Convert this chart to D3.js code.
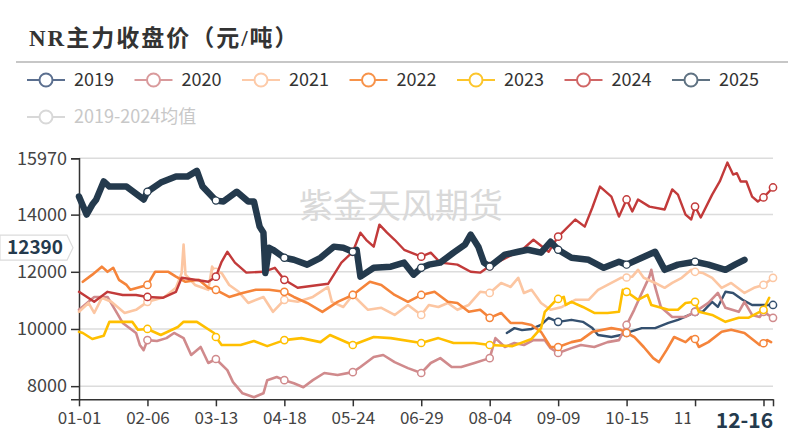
<!DOCTYPE html>
<html>
<head>
<meta charset="utf-8">
<script src="https://cdn.jsdelivr.net/npm/d3@7"></script>
<style>
  body { margin: 0; background: #fff; }
  svg { display: block; }
</style>
</head>
<body>
<svg id="chart" width="804" height="439"></svg>
<script>
// categories: one per calendar day of a leap year, "MM-DD"
const categories = d3.timeDay.range(new Date(2024, 0, 1), new Date(2025, 0, 1)).map(d3.timeFormat("%m-%d"));
const xTickDays = [0, 36, 72, 108, 144, 180, 216, 252, 288, 324, 360];
const yTicks = [8000, 10000, 12000, 14000, 15970];
const yMin = 7540, yMax = 15970;

const seriesNames = ["2019", "2020", "2021", "2022", "2023", "2024", "2025"];
const avgName = "2019-2024均值";

// [day index, close price]
const s2019 = [[225,9860],[229,10030],[233,9960],[238,10000],[243,10140],[247,10390],[252,10250],[259,10320],
  [265,10250],[270,10030],[273,9790],[280,9720],[285,9790],[288,9860],[296,10030],[303,10030],[310,10210],
  [315,10320],[321,10490],[324,10600],[328,10600],[333,10950],[336,10770],[340,11300],[344,11260],[349,11020],
  [354,10840],[359,10840],[365,10840]];

const s2020 = [[0,10670],[3,10840],[8,11120],[15,11120],[19,10670],[23,10210],[30,9860],[32,9440],[34,9260],
  [36,9610],[41,9580],[46,9680],[50,9860],[55,9680],[59,9090],[64,9370],[68,8810],[72,8950],[78,8560],[81,8140],
  [86,7750],[92,7610],[97,7750],[99,8210],[104,8320],[108,8210],[113,8100],[118,7960],[123,8210],[129,8460],
  [136,8390],[144,8490],[148,8670],[155,9020],[160,9090],[166,8840],[173,8630],[180,8460],[185,8810],[190,8980],
  [196,8670],[201,8670],[208,8810],[216,8980],[219,9680],[224,9370],[229,9510],[234,9440],[239,9610],[245,9610],
  [248,9330],[252,9160],[259,9330],[264,9440],[271,9370],[278,9540],[284,9610],[288,10140],[292,10670],
  [296,11260],[300,11830],[301,12070],[303,11470],[306,10770],[312,10420],[319,10420],[324,10600],[331,10910],
  [336,11260],[340,10740],[347,10600],[350,10950],[354,10490],[358,10420],[360,10600],[365,10390]];

const s2021 = [[0,10600],[5,10910],[8,10560],[12,11090],[17,10950],[24,10560],[30,10670],[36,10950],[40,11020],
  [45,11120],[51,11440],[54,11960],[55,12950],[56,11900],[61,11540],[68,11370],[70,12180],[72,12000],[75,11960],
  [79,11540],[84,11300],[89,10910],[97,11120],[102,10600],[108,11020],[115,10950],[123,11120],[131,11470],
  [133,10950],[139,10770],[144,11190],[152,10670],[159,10740],[166,10490],[173,10840],[180,10490],[184,10840],
  [189,10770],[194,10910],[199,10670],[205,10840],[211,11300],[216,11260],[222,11610],[227,11470],[231,11790],
  [234,11260],[238,11370],[243,10910],[248,10670],[254,10770],[261,11020],[268,11020],[273,11370],[280,11610],
  [285,11790],[288,11800],[291,11830],[294,12070],[297,11790],[303,11610],[308,11440],[312,11610],[317,11790],
  [322,12070],[324,12000],[328,11960],[333,11790],[338,11440],[343,11610],[350,11260],[355,11440],[360,11540],
  [365,11790]];

const s2022 = [[2,11650],[7,11900],[12,12180],[15,12000],[18,12140],[21,11720],[25,11540],[27,11370],[36,11540],
  [40,12000],[47,12000],[51,11830],[56,11650],[63,11720],[68,11440],[72,11370],[79,11120],[86,11260],[93,11370],
  [100,11370],[108,11300],[113,11120],[120,10910],[128,10600],[136,10950],[144,11190],[153,11650],[159,11540],
  [166,11190],[173,10950],[180,11190],[187,11300],[194,10950],[199,10910],[205,10600],[211,10670],[216,10390],
  [222,10560],[227,10210],[233,10210],[238,10140],[243,9900],[248,9370],[252,9370],[259,9540],[264,9610],
  [270,9900],[280,10030],[285,9970],[288,9860],[292,9720],[297,9370],[302,8980],[305,8840],[309,9260],
  [313,9720],[319,9540],[322,9720],[324,9650],[326,9370],[331,9540],[338,9900],[343,9970],[350,9860],
  [358,9440],[360,9500],[362,9610],[364,9540]];

const s2023 = [[0,9900],[2,9860],[7,9650],[13,9760],[16,10250],[28,10250],[31,9970],[36,10000],[43,9790],
  [52,10070],[55,10250],[62,10250],[71,9860],[72,9720],[75,9440],[85,9440],[92,9580],[99,9400],[108,9610],
  [117,9680],[127,9540],[132,9790],[144,9440],[155,9720],[164,9680],[180,9510],[189,9680],[197,9510],
  [208,9510],[216,9440],[228,9400],[238,9650],[243,10030],[245,10600],[250,10950],[252,11050],[255,11120],
  [256,10840],[259,10950],[265,10770],[271,10560],[278,10560],[284,10600],[286,11370],[288,11300],[294,11020],
  [299,11190],[301,10840],[310,10670],[315,10670],[319,10910],[324,10950],[326,10600],[333,10490],[340,10250],
  [347,10390],[352,10390],[360,10670],[363,11090]];

const s2024 = [[0,11300],[8,10950],[15,11300],[23,11190],[30,11190],[36,11120],[44,11090],[51,11300],[54,11790],
  [61,11720],[68,11650],[72,11830],[75,12350],[78,12700],[82,12320],[88,11970],[97,12000],[103,12140],
  [108,11720],[115,11440],[131,11580],[138,12320],[144,12700],[148,13370],[151,13120],[155,12880],[158,13650],
  [162,13370],[166,13120],[171,12770],[180,12530],[185,12670],[190,12320],[199,12250],[206,12000],[211,11970],
  [216,12200],[233,12770],[239,13120],[247,12700],[252,13230],[261,13830],[266,13580],[270,14250],[274,14980],
  [280,14630],[284,13930],[288,14530],[291,14110],[294,14530],[300,14280],[308,14180],[312,14880],[315,14700],
  [319,14000],[322,13830],[324,14280],[327,13900],[333,14700],[337,15160],[341,15820],[344,15400],[346,15450],
  [348,15160],[351,15160],[354,14630],[357,14460],[360,14600],[365,14950]];

const s2025 = [[0,14630],[2,14320],[4,14000],[7,14350],[9,14520],[13,15160],[16,14980],[25,14980],[34,14530],
  [36,14800],[43,15120],[51,15330],[57,15330],[62,15530],[65,14980],[72,14490],[76,14460],[83,14800],
  [89,14460],[92,14460],[95,13580],[97,13370],[98,11960],[100,12840],[102,12770],[108,12490],[113,12420],
  [120,12250],[127,12490],[134,12880],[139,12840],[144,12700],[146,12770],[148,11830],[155,12140],[164,12180],
  [171,12320],[176,11900],[180,12140],[184,12250],[190,12320],[197,12670],[203,12950],[206,13300],[210,12880],
  [213,12320],[216,12180],[224,12600],[231,12700],[236,12770],[243,12670],[248,13050],[252,12770],[259,12490],
  [268,12420],[276,12140],[284,12350],[288,12250],[296,12490],[303,12700],[308,12070],[315,12250],[324,12350],
  [331,12250],[340,12070],[345,12250],[350,12420]];

const seriesData = [s2019, s2020, s2021, s2022, s2023, s2024, s2025];

// axis pointer state shown in the picture
const pointerDay = 350;
const pointerValue = 12390;

// ---- styles ----
const lineColors = ["#34506f", "#d08a8c", "#fcc6a2", "#f5843a", "#ffbf00", "#c23a3a", "#243a4d"];
const legendColors = ["#5b6f8f", "#d99a9c", "#fdcaa8", "#f7934a", "#fcc52b", "#d06666", "#5f7282"];
const lineWidths = [2.4, 2.6, 2.6, 2.6, 2.6, 2.4, 6.5];
const font = "'Noto Sans CJK SC', 'Noto Sans', sans-serif";

const svg = d3.select("#chart");
const plot = { left: 79, right: 773, top: 158.3, bottom: 399.3 };

const x = d3.scaleLinear().domain([0, categories.length - 1]).range([plot.left, plot.right]);
const y = d3.scaleLinear().domain([yMin, yMax]).range([plot.bottom, plot.top]);

// title
svg.append("text")
  .attr("x", 29).attr("y", 46)
  .style("font-family", "'Liberation Serif', 'Noto Sans CJK SC', serif")
  .style("font-weight", "bold")
  .style("font-size", "23px")
  .style("letter-spacing", "2px")
  .attr("fill", "#333")
  .text("NR主力收盘价（元/吨）");

svg.append("line")
  .attr("x1", 16).attr("x2", 788).attr("y1", 62).attr("y2", 62)
  .attr("stroke", "#b4b4b4").attr("stroke-width", 1.5);

// legend
const legendItems = seriesNames.map((n, i) => ({ name: n, color: legendColors[i], row: 0, col: i }))
  .concat([{ name: avgName, color: "#d8d8d8", text: "#c8c8c8", row: 1, col: 0 }]);
const legend = svg.append("g");
const lg = legend.selectAll("g").data(legendItems).join("g")
  .attr("transform", d => `translate(${27 + d.col * 107.5}, ${80 + d.row * 37})`);
lg.append("line").attr("x1", 0).attr("x2", 38).attr("y1", 0).attr("y2", 0)
  .attr("stroke", d => d.color).attr("stroke-width", 2);
lg.append("circle").attr("cx", 19).attr("cy", 0).attr("r", 6.5)
  .attr("fill", "#fff").attr("stroke", d => d.color).attr("stroke-width", 2);
lg.append("text").attr("x", 47).attr("y", 0).attr("dy", "0.35em")
  .style("font-family", font).style("font-size", "18px")
  .attr("fill", d => d.text || "#333")
  .text(d => d.name);

// grid
svg.append("g").selectAll("line").data(yTicks).join("line")
  .attr("x1", plot.left).attr("x2", plot.right)
  .attr("y1", d => y(d)).attr("y2", d => y(d))
  .attr("stroke", "#dcdcdc").attr("stroke-width", 1.5);

// watermark
svg.append("text")
  .attr("x", 401).attr("y", 206).attr("dy", "0.35em")
  .attr("text-anchor", "middle")
  .style("font-family", font).style("font-size", "34px")
  .attr("fill", "#d9d9d9")
  .text("紫金天风期货");

// axes
const yAxis = svg.append("g")
  .attr("transform", `translate(${plot.left},0)`)
  .call(d3.axisLeft(y).tickValues(yTicks).tickSize(8).tickPadding(4).tickFormat(d => d));
yAxis.select(".domain").attr("stroke", "#333").attr("stroke-width", 1.5);
yAxis.selectAll(".tick line").attr("stroke", "#333").attr("stroke-width", 1.5);
yAxis.selectAll("text").style("font-family", font).style("font-size", "18px").attr("fill", "#444");

// the last labelled day sits under the pointer label, so only its tick is drawn
const hiddenLabelDay = 360;
const xAxis = svg.append("g")
  .attr("transform", `translate(0,${plot.bottom})`)
  .call(d3.axisBottom(x).tickValues(xTickDays.concat([categories.length - 1]))
    .tickSize(7).tickSizeOuter(0).tickPadding(6)
    .tickFormat(d => xTickDays.includes(d) && d !== hiddenLabelDay ? categories[d] : ""));
xAxis.select(".domain").attr("stroke", "#333").attr("stroke-width", 1.5);
xAxis.selectAll(".tick line").attr("stroke", "#333").attr("stroke-width", 1.5);
xAxis.selectAll("text").style("font-family", font).style("font-size", "17px").attr("fill", "#444");

// series
const line = d3.line().x(d => x(d[0])).y(d => y(d[1]));
const series = svg.append("g").selectAll("g").data(seriesData).join("g");
series.append("path")
  .attr("d", d => line(d))
  .attr("fill", "none")
  .attr("stroke", (d, i) => lineColors[i])
  .attr("stroke-width", (d, i) => lineWidths[i])
  .attr("stroke-linejoin", "round")
  .attr("stroke-linecap", "round");
series.selectAll("circle")
  .data((d, i) => d.filter(p => (p[0] > 0 && p[0] % 36 === 0) || p[0] === 365).map(p => ({ p, i })))
  .join("circle")
  .attr("cx", d => x(d.p[0]))
  .attr("cy", d => y(d.p[1]))
  .attr("r", 3.6)
  .attr("fill", "#fff")
  .attr("stroke", d => d.i === 6 ? "#243a4d" : lineColors[d.i])
  .attr("stroke-width", d => d.i === 6 ? 1.2 : 1.5);

// axis pointer labels
const px = x(pointerDay);
svg.append("rect")
  .attr("x", px - 54).attr("y", 408).attr("width", 108).attr("height", 26)
  .attr("fill", "#fff");
svg.append("text")
  .attr("x", px).attr("y", 421).attr("dy", "0.35em")
  .attr("text-anchor", "middle")
  .style("font-family", font).style("font-size", "21px").style("font-weight", "bold")
  .attr("fill", "#243a4d")
  .text(categories[pointerDay]);

const py = y(pointerValue) - 13;
svg.append("path")
  .attr("d", `M0,${py - 12.5}H67L73,${py}L67,${py + 12.5}H0Z`)
  .attr("fill", "#fff").attr("stroke", "#dcdcdc").attr("stroke-width", 1.2);
svg.append("text")
  .attr("x", 35).attr("y", py).attr("dy", "0.35em")
  .attr("text-anchor", "middle")
  .style("font-family", font).style("font-size", "19px").style("font-weight", "bold")
  .attr("fill", "#243a4d")
  .text(pointerValue);
</script>
</body>
</html>
